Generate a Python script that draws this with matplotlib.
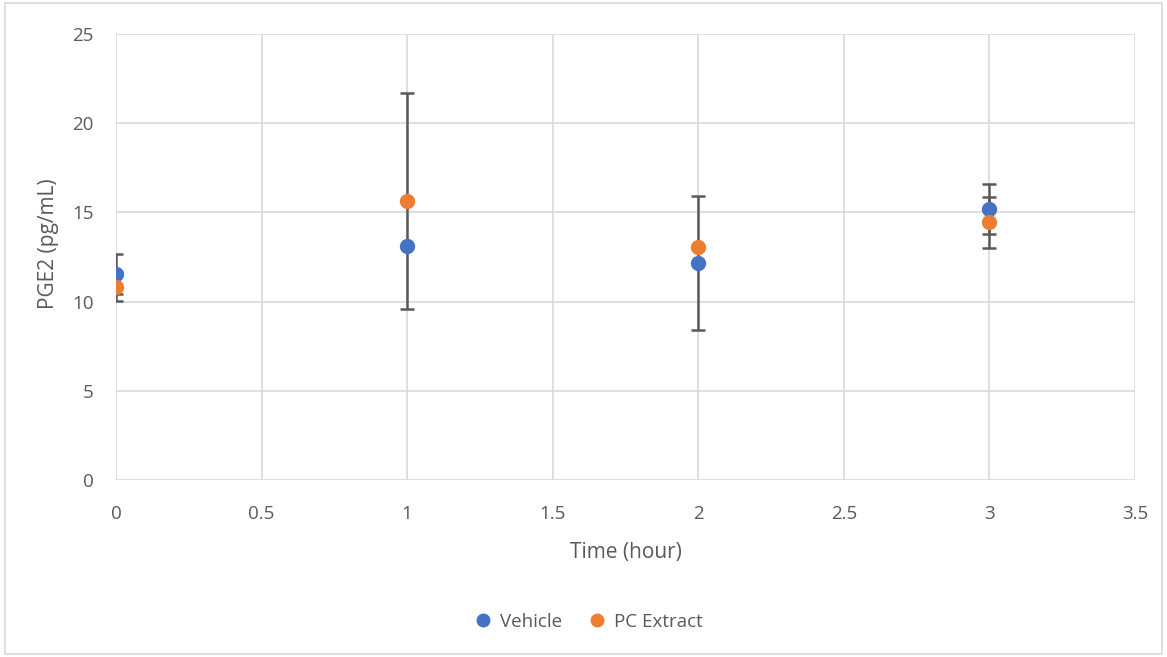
import matplotlib
matplotlib.use("Agg")
import matplotlib.pyplot as plt
from matplotlib.patches import Rectangle

# data
time_h = [0, 1, 2, 3]
vehicle = [11.55, 13.12, 12.16, 15.19]
vehicle_err = [1.12, 0.0, 3.76, 1.42]
pc_extract = [10.83, 15.64, 13.06, 14.46]
pc_extract_err = [0.81, 6.08, 0.0, 1.43]

x_ticks = [0, 0.5, 1, 1.5, 2, 2.5, 3, 3.5]
y_ticks = [0, 5, 10, 15, 20, 25]

plt.rcParams['font.family'] = ['Open Sans', 'DejaVu Sans']

fig = plt.figure(figsize=(11.67, 6.57), dpi=100)
ax = fig.add_axes([116 / 1167, 1 - 480 / 657, (1135 - 116) / 1167, (480 - 34) / 657])

# chart area border
fig.patches.append(Rectangle((0.004, 0.004), 0.992, 0.992, transform=fig.transFigure,
                             fill=False, edgecolor='#d9d9d9', linewidth=1.2))

err_style = dict(fmt='none', ecolor='#595959', elinewidth=1.8, capsize=5, capthick=1.8, zorder=3)
ax.errorbar(time_h, vehicle, yerr=vehicle_err, **err_style)
ax.errorbar(time_h, pc_extract, yerr=pc_extract_err, **err_style)
ax.plot(time_h, vehicle, 'o', color='#4472C4', markersize=10, label='Vehicle', zorder=4)
ax.plot(time_h, pc_extract, 'o', color='#ED7D31', markersize=10, label='PC Extract', zorder=4)

ax.set_xlim(0, 3.5)
ax.set_ylim(0, 25)
ax.set_xticks(x_ticks)
ax.set_xticklabels([f'{v:g}' for v in x_ticks])
ax.set_yticks(y_ticks)
ax.grid(True, color='#d9d9d9', linewidth=1.2)
ax.set_axisbelow(True)
for s in ax.spines.values():
    s.set_visible(False)
ax.tick_params(axis='x', length=0, labelsize=13.5, colors='#595959', pad=18)
ax.tick_params(axis='y', length=0, labelsize=13.5, colors='#595959', pad=16)

ax.set_xlabel('Time (hour)', fontsize=15, color='#595959', labelpad=14)
ax.set_ylabel('PGE2 (pg/mL)', fontsize=15, color='#595959')
ax.yaxis.set_label_coords(-0.056, 0.53)

fig.legend(loc='center', bbox_to_anchor=(0.5, 1 - 622 / 657), ncol=2, frameon=False,
           fontsize=13.5, handletextpad=-0.1, columnspacing=0.9, markerscale=0.9,
           labelcolor='#595959')

fig.savefig('out.png', dpi=100)
